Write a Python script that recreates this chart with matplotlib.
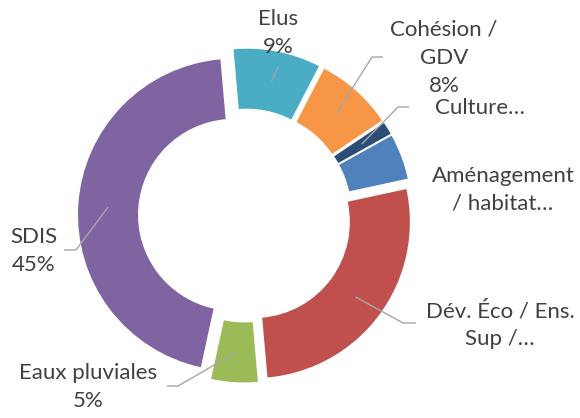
import matplotlib.pyplot as plt
import numpy as np

plt.rcParams['font.family'] = ['Lato', 'DejaVu Sans']

categories = ["Elus", "Cohésion /\nGDV", "Culture…", "Aménagement\n/ habitat…",
              "Dév. Éco / Ens.\nSup /…", "Eaux pluviales", "SDIS"]
values = [9.0, 8.0, 1.3, 4.7, 27.0, 4.8, 45.2]
show_pct = [True, True, False, False, False, True, True]
colors = ["#4BACC6", "#F79646", "#2C4D75", "#4F81BD", "#C0504D", "#9BBB59", "#8064A2"]

W, H = 580, 418
# label centres and leader elbows, pixels from the top-left corner
label_xy = [(278, 33), (444, 58), (480, 108), (503, 190), (500, 325), (88, 387), (34, 251)]
elbows = [[(278, 67)], [(372, 57), (383, 57)], [(398, 107), (409, 107)], [],
          [(403, 323), (416, 323)], [(178, 386), (167, 386)], [(76, 250), (64, 250)]]

fig = plt.figure(figsize=(W / 100, H / 100), dpi=100)
ax = fig.add_axes([0, 0, 1, 1])

wedges, _ = ax.pie(values, colors=colors, startangle=95, counterclock=False,
                   radius=156, center=(245, H - 215.5), explode=[11] * len(values),
                   wedgeprops=dict(width=60, linewidth=0))

# pie() resets the limits, so set the pixel frame afterwards
ax.set_xlim(0, W)
ax.set_ylim(0, H)
ax.set_aspect('equal')
ax.axis('off')

total = sum(values)
for i, w in enumerate(wedges):
    mid = np.deg2rad((w.theta1 + w.theta2) / 2)
    rr = w.r - w.width / 2
    ax_ = w.center[0] + rr * np.cos(mid)
    ay_ = w.center[1] + rr * np.sin(mid)
    if elbows[i]:
        xs = [ax_] + [p[0] for p in elbows[i]]
        ys = [ay_] + [H - p[1] for p in elbows[i]]
        ax.plot(xs, ys, color="#A6A6A6", lw=1.0, solid_capstyle='butt')
    txt = categories[i]
    if show_pct[i]:
        txt += "\n{:.0f}%".format(values[i] / total * 100)
    lx, ly = label_xy[i]
    ax.text(lx, H - ly, txt, ha='center', va='center', multialignment='center',
            fontsize=16, color="#404040", linespacing=1.5)

fig.savefig("out.png", dpi=100)
